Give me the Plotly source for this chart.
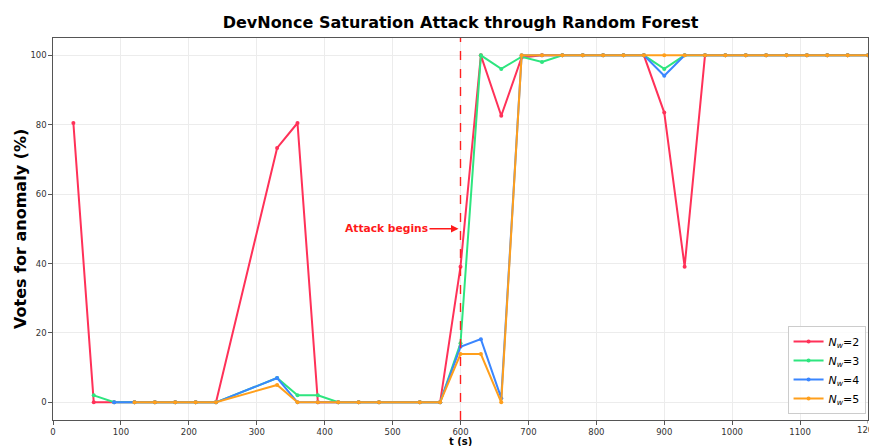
import plotly.graph_objects as go

# Sample times (s); windows at 270, 300 and 510 s produced no votes
t = [30, 60, 90, 120, 150, 180, 210, 240,
     330, 360, 390, 420, 450, 480,
     540, 570, 600, 630, 660, 690, 720, 750, 780, 810, 840, 870,
     900, 930, 960, 990, 1020, 1050, 1080, 1110, 1140, 1170, 1200]

# Percentage of trees voting "anomaly" for each window size N_w
votes_nw2 = [80.5, 0, 0, 0, 0, 0, 0, 0,
             73.3, 80.5, 0, 0, 0, 0,
             0, 0, 39.1, 100, 82.6, 99.4, 100, 100, 100, 100, 100, 100,
             83.5, 39.1, 100, 100, 100, 100, 100, 100, 100, 100, 100]
votes_nw3 = [None, 2, 0, 0, 0, 0, 0, 0,
             7, 2, 2, 0, 0, 0,
             0, 0, 17, 100, 96.1, 99.6, 98.1, 100, 100, 100, 100, 100,
             96.1, 100, 100, 100, 100, 100, 100, 100, 100, 100, 100]
votes_nw4 = [None, None, 0, 0, 0, 0, 0, 0,
             7, 0, 0, 0, 0, 0,
             0, 0, 16, 18.2, 1.2, 100, 100, 100, 100, 100, 100, 100,
             94.1, 100, 100, 100, 100, 100, 100, 100, 100, 100, 100]
votes_nw5 = [None, None, None, 0, 0, 0, 0, 0,
             5, 0, 0, 0, 0, 0,
             0, 0, 13.9, 13.9, 0, 100, 100, 100, 100, 100, 100, 100,
             100, 100, 100, 100, 100, 100, 100, 100, 100, 100, 100]

series_names = ["2", "3", "4", "5"]
series_values = [votes_nw2, votes_nw3, votes_nw4, votes_nw5]
series_colors = ["#ff3158", "#2ee57f", "#3a86ff", "#ff9f1c"]

attack_start = 600
x_ticks = [0, 100, 200, 300, 400, 500, 600, 700, 800, 900, 1000, 1100]
x_last_tick = 1200
y_ticks = [0, 20, 40, 60, 80, 100]

FONT = "DejaVu Sans"
TICK_FONT = dict(family=FONT, size=8.5, color="#333333")

fig = go.Figure()
for name, vals, col in zip(series_names, series_values, series_colors):
    fig.add_trace(go.Scatter(
        x=t, y=vals, mode="lines+markers",
        name=f"<i>N</i><sub><i>w</i></sub>={name}",
        line=dict(color=col, width=2),
        marker=dict(color=col, size=4),
        connectgaps=False,
    ))

# Attack onset marker
fig.add_shape(type="line", xref="x", yref="paper",
              x0=attack_start, x1=attack_start, y0=0, y1=1,
              line=dict(color="#ff2020", width=1.4, dash="dash"))

fig.add_annotation(
    x=attack_start, y=50, xref="x", yref="y",
    ax=491, ay=50, axref="x", ayref="y",
    text="Attack begins", showarrow=True,
    arrowhead=2, arrowsize=1, arrowwidth=1.5, arrowcolor="#ff1a1a",
    standoff=2,
    font=dict(family=FONT, size=10.7, color="#ff1a1a", weight="bold"),
)

# Last x tick label sits on the right edge of the axis
fig.add_annotation(
    x=x_last_tick, y=-0.026, xref="x", yref="paper",
    text=str(x_last_tick), showarrow=False,
    xanchor="center", yanchor="middle", font=TICK_FONT,
)
fig.add_shape(type="line", xref="x", yref="paper",
              x0=x_last_tick, x1=x_last_tick, y0=0, y1=-0.009,
              line=dict(color="#555555", width=1))

# Axis titles
fig.add_annotation(
    x=-0.0405, y=0.5, xref="paper", yref="paper",
    text="Votes for anomaly (%)", textangle=-90, showarrow=False,
    xanchor="center", yanchor="middle",
    font=dict(family=FONT, size=16, color="#000000", weight="bold"),
)
fig.add_annotation(
    x=0.5, y=-0.055, xref="paper", yref="paper",
    text="t (s)", showarrow=False,
    xanchor="center", yanchor="middle",
    font=dict(family=FONT, size=10, color="#000000", weight="bold"),
)

axis_common = dict(
    showgrid=True, gridcolor="#ececec", gridwidth=1,
    showline=True, linecolor="#555555", linewidth=1.2, mirror=True,
    ticks="outside", ticklen=3.5, tickcolor="#555555", tickwidth=1,
    tickfont=TICK_FONT,
    zeroline=False,
)

fig.update_layout(
    width=869, height=446,
    margin=dict(l=53, r=1, t=38, b=26),
    paper_bgcolor="white", plot_bgcolor="white",
    title=dict(
        text="DevNonce Saturation Attack through Random Forest",
        x=0.5, xref="paper", xanchor="center",
        y=1 - 22 / 446, yref="container", yanchor="middle",
        font=dict(family=FONT, size=16, color="#000000", weight="bold"),
    ),
    xaxis=dict(range=[0, 1200], tickvals=x_ticks, **axis_common),
    yaxis=dict(range=[-5.1, 105], tickvals=y_ticks, **axis_common),
    legend=dict(
        x=0.997, y=0.016, xanchor="right", yanchor="bottom",
        bgcolor="rgba(255,255,255,0.85)", bordercolor="#cccccc", borderwidth=1,
        font=dict(family=FONT, size=11, color="#000000"),
        tracegroupgap=0, itemwidth=30,
    ),
    showlegend=True,
    font=dict(family=FONT),
)

fig.write_html("out.html")
